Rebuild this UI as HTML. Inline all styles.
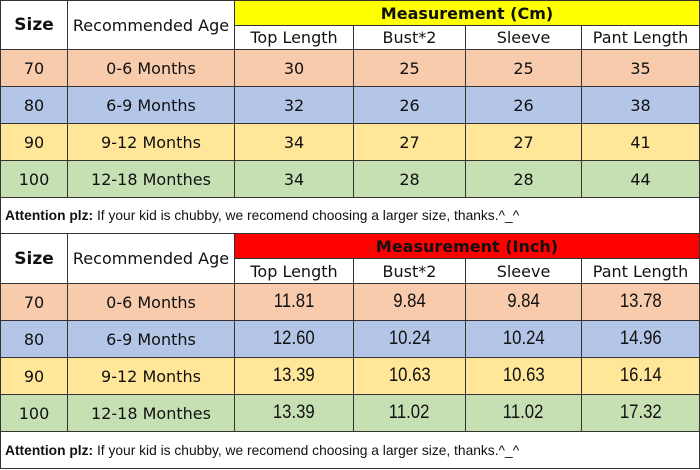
<!DOCTYPE html><html><head><style>
body{margin:0;width:700px;height:470px;background:#fff;overflow:hidden}
.t{display:grid;grid-template-columns:68px 167px 119px 112px 116px 118px;font-family:"Comic Sans MS","DejaVu Sans",sans-serif;font-size:16px;color:#111}
.t>div{border-right:1px solid #333;border-bottom:1px solid #333;display:flex;align-items:center;justify-content:center;box-sizing:border-box;white-space:nowrap}
.t>div.l{border-left:1px solid #333}
.h{grid-row:span 2;background:#fff}
.b{font-weight:bold;font-size:17px}
.m{grid-column:span 4;font-weight:bold;font-size:16px}
.s{background:#fff}
.p{background:#f8cbad}.u{background:#b4c6e7}.y{background:#ffe699}.g{background:#c6e0b4}
.a{grid-column:span 6;justify-content:flex-start!important;padding-left:4px;font-family:"Liberation Sans",sans-serif;font-size:13.8px;background:#fff;border-left:1px solid #333}
.num{font-family:"Liberation Sans",sans-serif;font-size:19px;transform:scaleX(.88)}
</style></head><body>
<div class="t" style="grid-template-rows:25px 24px 37px 37px 37px 37px 36px;border-top:1px solid #333">
<div class="h b l">Size</div><div class="h">Recommended Age</div><div class="m" style="background:#ffff00">Measurement (Cm)</div>
<div class="s">Top Length</div><div class="s">Bust*2</div><div class="s">Sleeve</div><div class="s">Pant Length</div>
<div class="p l">70</div><div class="p">0-6 Months</div><div class="p">30</div><div class="p">25</div><div class="p">25</div><div class="p">35</div>
<div class="u l">80</div><div class="u">6-9 Months</div><div class="u">32</div><div class="u">26</div><div class="u">26</div><div class="u">38</div>
<div class="y l">90</div><div class="y">9-12 Months</div><div class="y">34</div><div class="y">27</div><div class="y">27</div><div class="y">41</div>
<div class="g l">100</div><div class="g">12-18 Monthes</div><div class="g">34</div><div class="g">28</div><div class="g">28</div><div class="g">44</div>
<div class="a"><b>Attention plz:</b>&nbsp;If your kid is chubby, we recomend choosing a larger size, thanks.^_^</div>
</div>
<div class="t" style="grid-template-rows:25px 25px 37px 37px 37px 37px 37px">
<div class="h b l">Size</div><div class="h">Recommended Age</div><div class="m" style="background:#ff0000">Measurement (Inch)</div>
<div class="s">Top Length</div><div class="s">Bust*2</div><div class="s">Sleeve</div><div class="s">Pant Length</div>
<div class="p l">70</div><div class="p">0-6 Months</div><div class="p"><span class="num">11.81</span></div><div class="p"><span class="num">9.84</span></div><div class="p"><span class="num">9.84</span></div><div class="p"><span class="num">13.78</span></div>
<div class="u l">80</div><div class="u">6-9 Months</div><div class="u"><span class="num">12.60</span></div><div class="u"><span class="num">10.24</span></div><div class="u"><span class="num">10.24</span></div><div class="u"><span class="num">14.96</span></div>
<div class="y l">90</div><div class="y">9-12 Months</div><div class="y"><span class="num">13.39</span></div><div class="y"><span class="num">10.63</span></div><div class="y"><span class="num">10.63</span></div><div class="y"><span class="num">16.14</span></div>
<div class="g l">100</div><div class="g">12-18 Monthes</div><div class="g"><span class="num">13.39</span></div><div class="g"><span class="num">11.02</span></div><div class="g"><span class="num">11.02</span></div><div class="g"><span class="num">17.32</span></div>
<div class="a"><b>Attention plz:</b>&nbsp;If your kid is chubby, we recomend choosing a larger size, thanks.^_^</div>
</div>
</body></html>
